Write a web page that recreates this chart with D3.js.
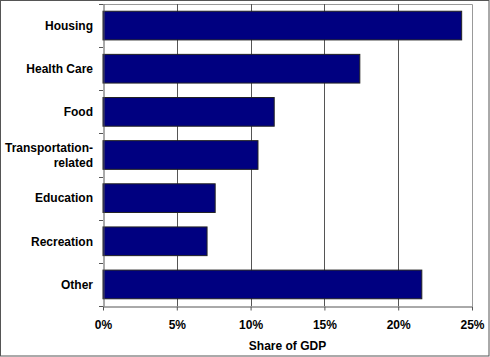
<!DOCTYPE html>
<html><head><meta charset="utf-8">
<script src="https://cdn.jsdelivr.net/npm/d3@7"></script>
<style>
html,body{margin:0;padding:0;background:#fff;}
svg{display:block;}
text{font-family:Arial,"Liberation Sans",sans-serif;font-weight:bold;font-size:12px;fill:#000;}
</style></head>
<body>
<svg id="chart" width="490" height="357"></svg>
<script>
const categories = ["Housing", "Health Care", "Food", "Transportation-related", "Education", "Recreation", "Other"];
const categoryLines = [["Housing"], ["Health Care"], ["Food"], ["Transportation-", "related"], ["Education"], ["Recreation"], ["Other"]];
const values = [24.3, 17.4, 11.6, 10.5, 7.6, 7.05, 21.6];
const xTicks = [0, 5, 10, 15, 20, 25];
const xTitle = "Share of GDP";

const svg = d3.select("#chart");
const W = 490, H = 357;
const m = {left: 103, right: 18, top: 4, bottom: 51};
const pw = W - m.left - m.right, ph = H - m.top - m.bottom;

// outer border
svg.append("rect").attr("x", 0.5).attr("y", 0.5).attr("width", W - 1.5).attr("height", H - 1.5)
  .attr("fill", "#fff").attr("stroke", "#555").attr("stroke-width", 1);

const x = d3.scaleLinear().domain([0, 25]).range([m.left, m.left + pw]);
const y = d3.scaleBand().domain(categories).range([m.top, m.top + ph]).paddingInner(0.335).paddingOuter(0.1675);

// plot border (top/right light gray)
svg.append("path")
  .attr("d", `M${m.left},${m.top + 0.5}H${m.left + pw + 0.5}V${m.top + ph}`)
  .attr("fill", "none").attr("stroke", "#999");

// gridlines
svg.append("g").selectAll("line").data(xTicks.filter(t => t > 0 && t < 25)).join("line")
  .attr("x1", d => Math.round(x(d)) + 0.5).attr("x2", d => Math.round(x(d)) + 0.5)
  .attr("y1", m.top).attr("y2", m.top + ph)
  .attr("stroke", "#555").attr("stroke-width", 1);

// bars
svg.append("g").selectAll("rect").data(values).join("rect")
  .attr("x", x(0)).attr("y", (d, i) => y(categories[i]))
  .attr("width", d => x(d) - x(0)).attr("height", y.bandwidth())
  .attr("fill", "#000080").attr("stroke", "#222").attr("stroke-width", 1);

// x axis
const xAxis = svg.append("g").attr("transform", `translate(0,${m.top + ph + 0.5})`)
  .call(d3.axisBottom(x).tickValues(xTicks).tickFormat(d => d + "%").tickSizeInner(4).tickSizeOuter(0).tickPadding(10));
xAxis.select(".domain").attr("stroke", "#555");
xAxis.selectAll(".tick line").attr("stroke", "#555");
xAxis.selectAll("text").attr("font-size", "12px").attr("font-weight", "bold").attr("font-family", "Arial, 'Liberation Sans', sans-serif").attr("fill", "#000");

// y axis
const yAxis = svg.append("g").attr("transform", `translate(${m.left + 0.5},0)`)
  .call(d3.axisLeft(y).tickSize(0).tickFormat(""));
yAxis.select(".domain").attr("stroke", "#555");
// category boundary ticks
const bounds = d3.range(categories.length + 1).map(i => m.top + i * ph / categories.length);
svg.append("g").selectAll("line").data(bounds).join("line")
  .attr("x1", m.left - 4).attr("x2", m.left)
  .attr("y1", d => Math.round(d) + 0.5).attr("y2", d => Math.round(d) + 0.5)
  .attr("stroke", "#555");

// category labels
const lab = svg.append("g");
categories.forEach((c, i) => {
  const lines = categoryLines[i];
  const cy = y(c) + y.bandwidth() / 2;
  const t = lab.append("text").attr("text-anchor", "end").attr("x", 93)
    .attr("y", cy - (lines.length - 1) * 7.5 + 4.3);
  lines.forEach((l, j) => t.append("tspan").attr("x", 93).attr("dy", j === 0 ? 0 : 15).text(l));
});

// x title
svg.append("text").attr("x", m.left + pw / 2).attr("y", 350).attr("text-anchor", "middle").text(xTitle);
</script>
</body></html>
